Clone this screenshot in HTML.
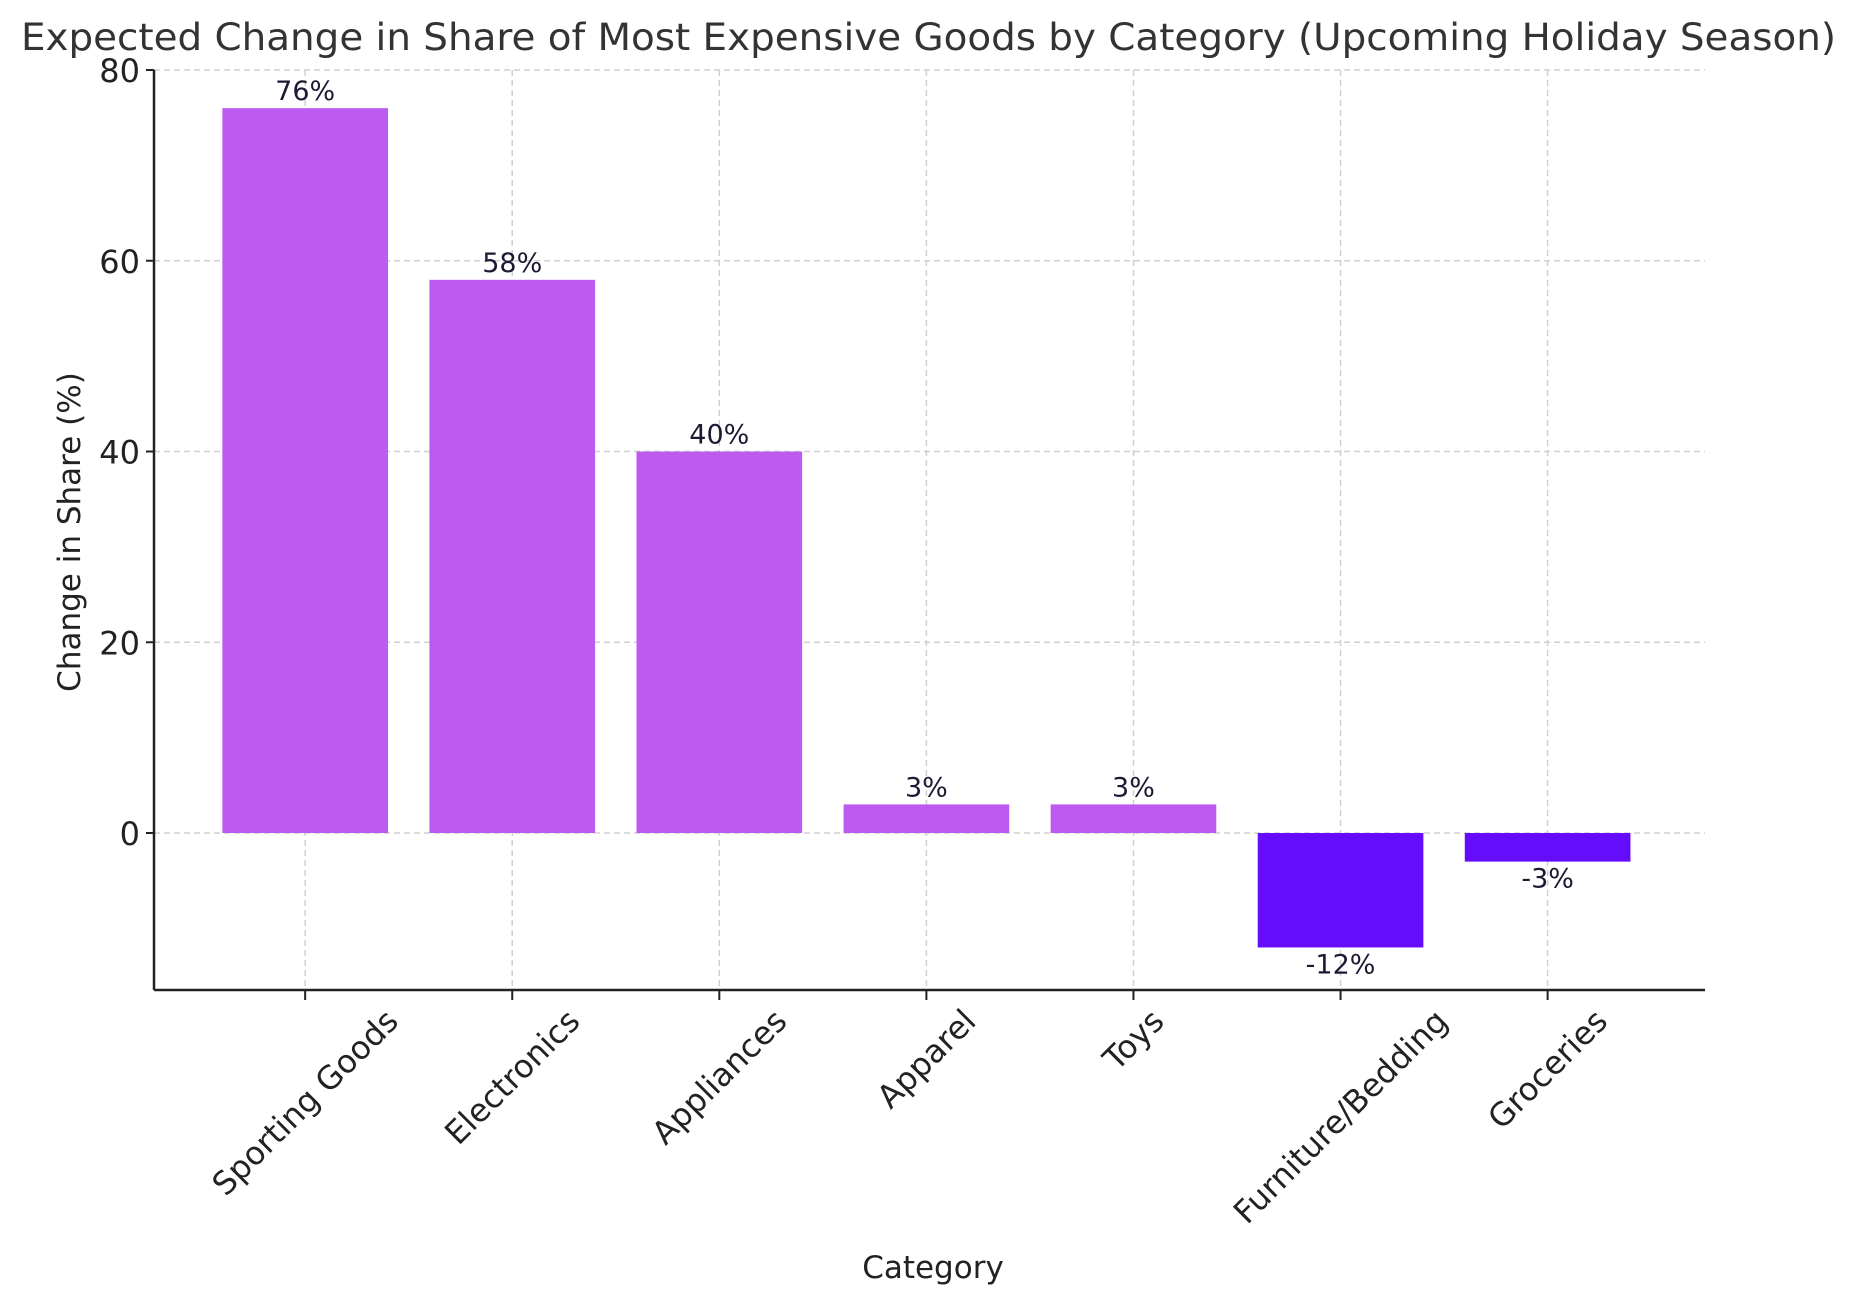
<!DOCTYPE html>
<html><head><meta charset="utf-8"><style>
html,body{margin:0;padding:0;background:#fff;}
svg text{font-family:"DejaVu Sans","Liberation Sans",sans-serif;}
</style></head><body>
<svg id="chart" width="1855" height="1298" viewBox="0 0 1855 1298" xmlns="http://www.w3.org/2000/svg">
<rect width="1855" height="1298" fill="#fff"/>
<text x="21" y="50" textLength="1815" lengthAdjust="spacingAndGlyphs" font-size="37" fill="#333">Expected Change in Share of Most Expensive Goods by Category (Upcoming Holiday Season)</text>
<g id="grid"></g><g id="bars"></g><g id="labels"></g><g id="axes"></g>
<text x="933" y="1278" text-anchor="middle" font-size="31" fill="#222">Category</text>
<text transform="translate(80,532) rotate(-90)" text-anchor="middle" font-size="31" fill="#222">Change in Share (%)</text>
</svg>
<script>
const categories = ["Sporting Goods","Electronics","Appliances","Apparel","Toys","Furniture/Bedding","Groceries"];
const values = [76,58,40,3,3,-12,-3];
const yTicks = [0,20,40,60,80];
const valueLabels = ["76%","58%","40%","3%","3%","-12%","-3%"];

const NS="http://www.w3.org/2000/svg";
const L=154,R=1705,T=70,B=990;
const xMin=-0.73,xMax=6.76,yMin=-16.46,yMax=80;
const xs=i=>L+(i-xMin)/(xMax-xMin)*(R-L);
const ys=v=>B-(v-yMin)/(yMax-yMin)*(B-T);
function mk(tag,attrs,parent){const e=document.createElementNS(NS,tag);for(const k in attrs)e.setAttribute(k,attrs[k]);parent.appendChild(e);return e;}
const grid=document.getElementById('grid'),bars=document.getElementById('bars'),labels=document.getElementById('labels'),axes=document.getElementById('axes');
yTicks.forEach(t=>{
  const g=mk('line',{x1:L,x2:R,y1:ys(t),y2:ys(t),stroke:'#d0d0d0','stroke-width':1.5,'stroke-dasharray':'6,4'},grid);
  
  
  const tk=mk('line',{x1:L-8,x2:L,y1:ys(t),y2:ys(t),stroke:'#222','stroke-width':2},axes);
  
  
  const tl=mk('text',{x:L-14,y:ys(t)+12,'text-anchor':'end','font-size':32,fill:'#222'},axes);
  tl.textContent=t;
  
  
});
const bw=0.8*(R-L)/(xMax-xMin);
categories.forEach((c,i)=>{
  const x=xs(i);
  const g=mk('line',{x1:x,x2:x,y1:T,y2:B,stroke:'#d0d0d0','stroke-width':1.5,'stroke-dasharray':'6,4'},grid);
  
  
  const v=values[i];
  const y0=ys(Math.max(v,0)),y1=ys(Math.min(v,0));
  const b=mk('rect',{x:x-bw/2,y:y0,width:bw,height:y1-y0,fill:v>=0?'#bd5bf1':'#640cfb'},bars);
  
  
  const vl=mk('text',{x:x,y:v>=0?ys(v)-8:ys(v)+26,'text-anchor':'middle','font-size':27,fill:'#1c1a33'},labels);
  vl.textContent=valueLabels[i];
  
  
  const tk=mk('line',{x1:x,x2:x,y1:B,y2:B+10,stroke:'#222','stroke-width':2},axes);
  
  
  const tl=mk('text',{x:0,y:0,'text-anchor':'middle','dominant-baseline':'central','font-size':32,fill:'#222'},axes);
  tl.textContent=c;
  
  
  const w=tl.getComputedTextLength();
  const cy=B+14+(w+32)*0.7071/2;
  tl.setAttribute('transform','translate('+x+','+cy+') rotate(-45)');
});
const ax1=mk('line',{x1:L,x2:L,y1:T,y2:B,stroke:'#222','stroke-width':2.5},axes);


const ax2=mk('line',{x1:L,x2:R,y1:B,y2:B,stroke:'#222','stroke-width':2.5},axes);


</script>
</body></html>
